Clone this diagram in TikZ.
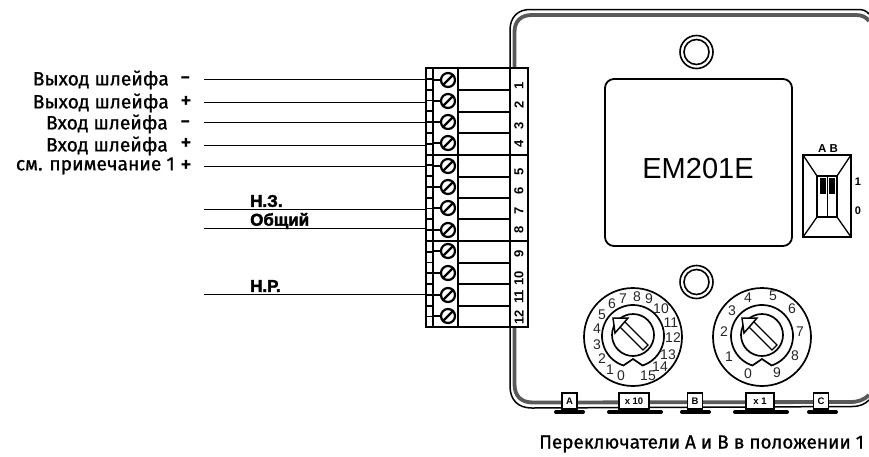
\documentclass[tikz,border=0pt]{standalone}
\usepackage{fontspec}
\setmainfont{Liberation Sans}
\newfontfamily\labelfont[FakeBold=1]{Fira Sans}
\newfontfamily\heavyfont[FakeBold=2.2]{Liberation Sans Bold}
\tikzset{
  wirelabel/.style = {anchor = east, inner sep = 0pt, font = \labelfont\fontsize{19.2}{19.2}\selectfont},
  signlabel/.style = {anchor = west, inner sep = 0pt, font = \heavyfont\fontsize{15}{15}\selectfont},
  pluslabel/.style = {anchor = west, inner sep = 0pt, font = \labelfont\fontsize{23}{23}\selectfont},
  relaylabel/.style = {anchor = west, inner sep = 0pt, font = \heavyfont\fontsize{17}{17}\selectfont},
  dialnum/.style = {inner sep = 0pt, font = \fontsize{14}{14}\selectfont, text = black!85},
  tabbox/.style = {draw, fill = white, line width = 1.4pt, inner sep = 0pt, minimum height = 16pt, font = \bfseries\fontsize{9.5}{9.5}\selectfont},
  blockline/.style = {line width = 2pt}
}
\begin{document}
\begin{tikzpicture}[x = 1pt, y = -1pt]
\useasboundingbox (0,0) rectangle (869,456);
\draw[line width = 1.5pt] (869,14)..controls (866,10.5) and (863,9.5) .. (858,9.5)--(530,9.5)..controls (518,9.5) and (510,17) .. (510,30)--(510,386)..controls (510,400) and (518,408) .. (532,408)--(852,406.5)..controls (860,406.5) and (865,404) .. (869,400);
\draw[line width = 3.8pt, black!65] (869,21)..controls (866,17) and (862,15) .. (856,15)--(532,15)..controls (521,15) and (514.5,21) .. (514.5,32)--(514.5,384)..controls (514.5,396) and (521,402.5) .. (533,402.5)--(850,402)..controls (858,402) and (864,400) .. (869,395);
\foreach \tabx/\tabw in {555/584, 608/662, 681/710, 734/788, 808/837}
  \draw[line width = 4pt, line cap = round] (\tabx+1,412)--(\tabw-1,412);
\node[tabbox, minimum width = 15pt] (taba) at (569.5,401) {A};
\node[tabbox, minimum width = 30pt] (tabx) at (634,401) {x 10};
\node[tabbox, minimum width = 15pt] (tabb) at (695,401) {B};
\node[tabbox, minimum width = 28pt] (tabo) at (760,401) {x 1};
\node[tabbox, minimum width = 15pt] (tabc) at (821,401) {C};
\draw[line width = 1.8pt, rounded corners = 9pt] (605,79) rectangle (792,246);
\node[font = \fontsize{29}{29}\selectfont, inner sep = 0pt] (emlabel) at (698,169) {EM201E};
\foreach \holey in {52, 282} {
  \draw[line width = 1.6pt] (696.5,\holey) circle (16.5);
  \draw[line width = 1.6pt] (696.5,\holey) circle (12.5);
}
\foreach \dialx in {633, 762} {
  \draw[line width = 1.7pt] (\dialx,337) circle (49);
  \draw[line width = 1.7pt] (\dialx,336) ++(108:31) arc[start angle = 108, end angle = 432, radius = 31]--(\dialx,359)--cycle;
  \draw[line width = 1.7pt] (\dialx,335) circle (21);
  \draw[line width = 1.3pt, fill = white] (\dialx-14,326)--(\dialx+10,350)--(\dialx+15,345)--(\dialx-9,321)--cycle;
  \draw[line width = 1.5pt, fill = white] (\dialx-20,318)--(\dialx-5,318)--(\dialx-18,333)--cycle;
}
\foreach \dialn/\numx/\numy in {0/621/376, 1/610/370, 2/602/359, 3/597/345, 4/597/329, 5/602/315, 6/612/304, 7/623/299, 8/637/297, 9/649/299, 10/661/309, 11/671/323, 12/673/338, 13/668/355, 14/660/367, 15/648/376}
  \node[dialnum] (ten\dialn) at (\numx,\numy) {\dialn};
\foreach \dialn/\numx/\numy in {0/748/374, 1/729/357, 2/724/332, 3/732/311, 4/748/298, 5/773/296, 6/792/309, 7/800/332, 8/795/356, 9/777/373}
  \node[dialnum] (one\dialn) at (\numx,\numy) {\dialn};
\draw[line width = 1.5pt] (803,155) rectangle (851,237);
\draw[line width = 1.3pt] (817,176) rectangle (837,217);
\draw[line width = 1pt] (827,176)--(827,217);
\draw[line width = 1.3pt] (803,155)--(817,176) (851,155)--(837,176) (803,237)--(817,217) (851,237)--(837,217);
\fill (820,178) rectangle (826,194);
\fill (829,178) rectangle (835,194);
\node[font = \bfseries\fontsize{11.5}{11.5}\selectfont, inner sep = 0pt] (swhead) at (828,149) {A B};
\node[font = \bfseries\fontsize{11}{11}\selectfont, inner sep = 0pt] (swone) at (858,182) {1};
\node[font = \bfseries\fontsize{11}{11}\selectfont, inner sep = 0pt] (swzero) at (858,211) {0};
\fill[white] (425,68) rectangle (528,328);
\draw[blockline] (425.5,68) rectangle (527.5,327);
\draw[blockline] (432.5,68)--(432.5,327);
\draw[line width = 2.4pt] (458,68)--(458,327);
\draw[blockline] (510,68)--(510,327);
\draw[line width = 2.2pt] (425,155)--(528,155);
\draw[line width = 2.2pt] (425,241)--(528,241);
\foreach \i in {0,...,24}
  \draw[line width = 1.8pt] (425.5,68+\i*10.8)--(432.5,68+\i*10.8);
\foreach \liney/\linew in {90/2.6, 112/1.2, 133/2.6, 177/2.6, 198/2.6, 219/2.6, 263/1.5, 284/2.6, 306/1.5}
  \draw[line width = \linew pt] (458,\liney)--(510,\liney);
\foreach \scr/\scry/\stubw in {a/80/1.4, b/101/1.6, c/122/2.8, d/143/2.4, e/166/1.6, f/187/2.8, g/208/1.8, h/230/2.4, i/251/2.4, j/273/1.6, k/295/1.8, l/316/1.8} {
  \draw[line width = \stubw pt] (432,\scry)--(442,\scry);
  \node[circle, draw, fill = white, line width = 2.2pt, minimum size = 14pt, inner sep = 0pt] (scr\scr) at (448,\scry) {};
  \draw[line width = 2.4pt] (scr\scr.south west)--(scr\scr.north east);
}
\foreach \num/\numy in {1/86, 2/105, 3/126, 4/144, 5/172, 6/191, 7/211, 8/230, 9/254, 10/278, 11/297, 12/317}
  \node[rotate = 90, inner sep = 0pt, font = \bfseries\fontsize{13}{13}\selectfont] (num\num) at (519,\numy) {\num};
\foreach \wire/\wirey in {a/79, b/102, c/122, d/145, e/166, f/209, g/228, h/294} {
  \coordinate (wl\wire) at (204,\wirey);
  \coordinate (wr\wire) at (426,\wirey);
  \draw[line width = 1pt] (wl\wire)--(wr\wire);
}
\node[wirelabel] (lbla) at (169,80) {Выход шлейфа};
\node[wirelabel] (lblb) at (169,103) {Выход шлейфа};
\node[wirelabel] (lblc) at (168,124) {Вход шлейфа};
\node[wirelabel] (lbld) at (168,146) {Вход шлейфа};
\node[wirelabel] (lble) at (175,166) {см. примечание 1};
\node[signlabel] (sgna) at (181,79) {–};
\node[pluslabel] (sgnb) at (180,102) {+};
\node[signlabel] (sgnc) at (181,123) {–};
\node[pluslabel] (sgnd) at (180,144) {+};
\node[pluslabel] (sgne) at (180,166) {+};
\node[relaylabel] (lblnc) at (250,201) {Н.З.};
\node[relaylabel] (lblcom) at (250,221) {Общий};
\node[relaylabel] (lblno) at (250,286) {Н.Р.};
\node[anchor = west, inner sep = 0pt, font = \labelfont\fontsize{18.9}{18.9}\selectfont] (caption) at (539,444) {Переключатели А и В в положении 1};
\end{tikzpicture}
\end{document}
